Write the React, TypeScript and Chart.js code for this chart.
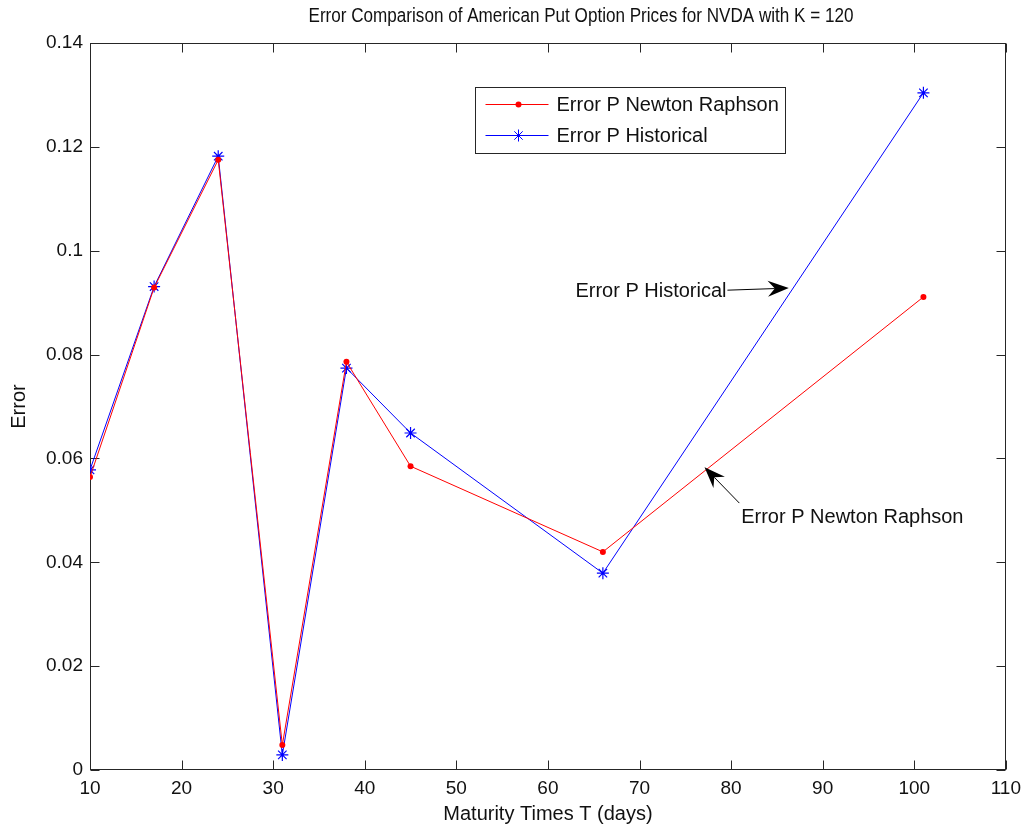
import React, { useEffect, useRef } from 'react';
import { Chart, registerables } from 'chart.js';

Chart.register(...registerables);

// ---- data ----
const maturityDays = [10, 17, 24, 31, 38, 45, 66, 101];
const errorNewtonRaphson = [0.0564, 0.0929, 0.1175, 0.0048, 0.0786, 0.0585, 0.042, 0.0911];
const errorHistorical = [0.0578, 0.0931, 0.1182, 0.0029, 0.0774, 0.0649, 0.0379, 0.1304];
const xTickValues = [10, 20, 30, 40, 50, 60, 70, 80, 90, 100, 110];
const yTickValues = [0, 0.02, 0.04, 0.06, 0.08, 0.1, 0.12, 0.14];
const seriesNames = ['Error P Newton Raphson', 'Error P Historical'];
const chartTitle = 'Error Comparison of American Put Option Prices for NVDA with K = 120';
const xTitle = 'Maturity Times T (days)';
const yTitle = 'Error';
// annotation: [text, textX, textY, tailX, tailY, tipX, tipY] in data units
const annotationHistorical = ['Error P Historical', 79.5, 0.0922, 79.6, 0.0924, 86.3, 0.0928];
const annotationNewton = ['Error P Newton Raphson', 81.1, 0.0487, 80.9, 0.0514, 77.1, 0.0583];

const FONT = "'Liberation Sans', Arial, sans-serif";
const RED = '#ff0000';
const BLUE = '#0000ff';
const AXIS = '#262626';

function drawArrow(ctx: CanvasRenderingContext2D, x0: number, y0: number, x1: number, y1: number) {
  const ang = Math.atan2(y1 - y0, x1 - x0);
  const hl = 21, hw = 8, notch = 7;
  ctx.beginPath();
  ctx.moveTo(x0, y0);
  ctx.lineTo(x1 - Math.cos(ang) * (hl - notch), y1 - Math.sin(ang) * (hl - notch));
  ctx.stroke();
  const bx = x1 - Math.cos(ang) * hl, by = y1 - Math.sin(ang) * hl;
  const nx = -Math.sin(ang), ny = Math.cos(ang);
  ctx.beginPath();
  ctx.moveTo(x1, y1);
  ctx.lineTo(bx + nx * hw, by + ny * hw);
  ctx.lineTo(x1 - Math.cos(ang) * (hl - notch), y1 - Math.sin(ang) * (hl - notch));
  ctx.lineTo(bx - nx * hw, by - ny * hw);
  ctx.closePath();
  ctx.fill();
}

const boxPlugin = {
  id: 'matlabBox',
  beforeDatasetsDraw(chart: any) {
    const { ctx, chartArea: a, scales } = chart;
    const x = scales.x, y = scales.y;
    const L = Math.round(a.left) + 0.5, R = Math.round(a.right) - 0.5;
    const T = Math.round(a.top) + 0.5, B = Math.round(a.bottom) - 0.5;
    ctx.save();
    ctx.strokeStyle = AXIS;
    ctx.lineWidth = 1;
    ctx.strokeRect(L, T, R - L, B - T);
    const tl = 9;
    ctx.beginPath();
    xTickValues.forEach((v) => {
      const px = Math.round(x.getPixelForValue(v)) + 0.5;
      ctx.moveTo(px, B); ctx.lineTo(px, B - tl);
      ctx.moveTo(px, T); ctx.lineTo(px, T + tl);
    });
    yTickValues.forEach((v) => {
      const py = Math.round(y.getPixelForValue(v)) + 0.5;
      ctx.moveTo(L, py); ctx.lineTo(L + tl, py);
      ctx.moveTo(R, py); ctx.lineTo(R - tl, py);
    });
    ctx.stroke();
    ctx.restore();
  },
  afterDraw(chart: any) {
    const { ctx, chartArea: a, scales } = chart;
    const x = scales.x, y = scales.y;
    ctx.save();
    // title (condensed look)
    ctx.save();
    ctx.font = `19px ${FONT}`;
    ctx.fillStyle = '#111';
    ctx.textAlign = 'center';
    ctx.textBaseline = 'middle';
    const tcx = a.left + 491;
    ctx.translate(tcx, 17);
    ctx.scale(0.9, 1.05);
    ctx.fillText(chartTitle, 0, 0);
    ctx.restore();
    // legend
    const lx = Math.round(a.left + 385) + 0.5, ly = Math.round(a.top + 44) + 0.5;
    const lw = 310, lh = 66;
    ctx.fillStyle = '#ffffff';
    ctx.fillRect(lx, ly, lw, lh);
    ctx.strokeStyle = AXIS;
    ctx.lineWidth = 1;
    ctx.strokeRect(lx, ly, lw, lh);
    const rows = [
      { color: RED, name: seriesNames[0], yy: ly + 17, star: false },
      { color: BLUE, name: seriesNames[1], yy: ly + 48, star: true },
    ];
    rows.forEach((r) => {
      ctx.strokeStyle = r.color;
      ctx.fillStyle = r.color;
      ctx.beginPath();
      ctx.moveTo(lx + 10, r.yy);
      ctx.lineTo(lx + 73, r.yy);
      ctx.stroke();
      const mx = lx + 43;
      if (r.star) {
        const s = 6;
        ctx.beginPath();
        ctx.moveTo(mx - s, r.yy); ctx.lineTo(mx + s, r.yy);
        ctx.moveTo(mx, r.yy - s); ctx.lineTo(mx, r.yy + s);
        const d = s * 0.7;
        ctx.moveTo(mx - d, r.yy - d); ctx.lineTo(mx + d, r.yy + d);
        ctx.moveTo(mx - d, r.yy + d); ctx.lineTo(mx + d, r.yy - d);
        ctx.stroke();
      } else {
        ctx.beginPath();
        ctx.arc(mx, r.yy, 3, 0, Math.PI * 2);
        ctx.fill();
      }
      ctx.fillStyle = '#111';
      ctx.font = `20px ${FONT}`;
      ctx.textAlign = 'left';
      ctx.textBaseline = 'middle';
      ctx.fillText(r.name, lx + 81, r.yy + 1);
    });
    // annotations
    ctx.strokeStyle = '#000';
    ctx.lineWidth = 1;
    const h = annotationHistorical as any[];
    ctx.font = `20px ${FONT}`;
    ctx.textBaseline = 'middle';
    ctx.textAlign = 'right';
    ctx.fillStyle = '#111';
    ctx.fillText(h[0], x.getPixelForValue(h[1]), y.getPixelForValue(h[2]));
    ctx.fillStyle = '#000';
    drawArrow(ctx, x.getPixelForValue(h[3]), y.getPixelForValue(h[4]), x.getPixelForValue(h[5]), y.getPixelForValue(h[6]));
    const n = annotationNewton as any[];
    ctx.textAlign = 'left';
    ctx.fillStyle = '#111';
    ctx.fillText(n[0], x.getPixelForValue(n[1]), y.getPixelForValue(n[2]));
    ctx.fillStyle = '#000';
    drawArrow(ctx, x.getPixelForValue(n[3]), y.getPixelForValue(n[4]), x.getPixelForValue(n[5]), y.getPixelForValue(n[6]));
    ctx.restore();
  },
};

export default function App() {
  const ref = useRef<HTMLCanvasElement | null>(null);
  useEffect(() => {
    if (!ref.current) return;
    const chart = new Chart(ref.current, {
      type: 'line',
      data: {
        datasets: [
          {
            label: seriesNames[0],
            data: maturityDays.map((d, i) => ({ x: d, y: errorNewtonRaphson[i] })),
            borderColor: RED,
            backgroundColor: RED,
            borderWidth: 1,
            pointStyle: 'circle',
            pointRadius: 3,
            pointBorderWidth: 0,
            tension: 0,
          },
          {
            label: seriesNames[1],
            data: maturityDays.map((d, i) => ({ x: d, y: errorHistorical[i] })),
            borderColor: BLUE,
            backgroundColor: BLUE,
            borderWidth: 1,
            pointStyle: 'star',
            pointRadius: 6,
            pointBorderWidth: 1.2,
            tension: 0,
          },
        ],
      },
      options: {
        responsive: false,
        animation: false,
        devicePixelRatio: 1,
        layout: { padding: { left: 0, right: 21, top: 43, bottom: 0 } },
        plugins: {
          legend: { display: false },
          tooltip: { enabled: false },
          title: { display: false },
        },
        scales: {
          x: {
            type: 'linear',
            min: 10,
            max: 110,
            grid: { display: false, drawTicks: false },
            border: { display: false },
            afterBuildTicks: (s: any) => { s.ticks = xTickValues.map((v) => ({ value: v })); },
            afterFit: (s: any) => { s.height = 61; },
            ticks: { color: '#111', padding: 7, maxRotation: 0, autoSkip: false, font: { family: FONT, size: 19 } },
            title: { display: true, text: xTitle, color: '#111', font: { family: FONT, size: 20 }, padding: { top: 0, bottom: 5 } },
          },
          y: {
            type: 'linear',
            min: 0,
            max: 0.14,
            grid: { display: false, drawTicks: false },
            border: { display: false },
            afterBuildTicks: (s: any) => { s.ticks = yTickValues.map((v) => ({ value: v })); },
            afterFit: (s: any) => { s.width = 90; },
            ticks: {
              color: '#111',
              padding: 7,
              autoSkip: false,
              font: { family: FONT, size: 19 },
              callback: (v: any) => String(Number(Number(v).toFixed(2))),
            },
            title: { display: true, text: yTitle, color: '#111', font: { family: FONT, size: 20 }, padding: { top: 7, bottom: 0 } },
          },
        },
      },
      plugins: [boxPlugin],
    } as any);
    return () => chart.destroy();
  }, []);
  return (
    <div style={{ position: 'absolute', left: 0, top: 0, width: 1028, height: 831, background: '#fff' }}>
      <canvas ref={ref} width={1028} height={831} style={{ display: 'block', width: 1028, height: 831 }} />
    </div>
  );
}
